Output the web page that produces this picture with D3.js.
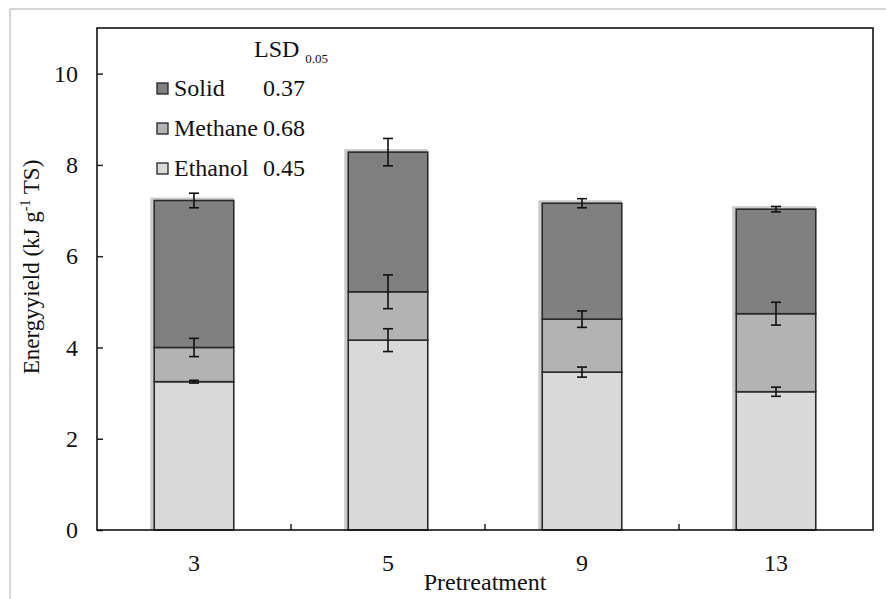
<!DOCTYPE html>
<meta charset="utf-8">
<style>
body { margin: 0; background: #fff; }
svg text { font-family: "Liberation Serif", Tinos, "Times New Roman", Times, serif; fill: #111; }
</style>
<svg width="886" height="599"></svg>
<script src="https://d3js.org/d3.v7.min.js"></script>
<script>

// data
var categories = ["3", "5", "9", "13"];
var ethanol = [3.25, 4.16, 3.46, 3.03];
var methane = [0.75, 1.06, 1.16, 1.71];
var solid = [3.22, 3.06, 2.54, 2.29];
var ethanolErr = [0.03, 0.25, 0.11, 0.10];
var methaneErr = [0.20, 0.37, 0.18, 0.25];
var solidErr = [0.16, 0.30, 0.10, 0.06];
var yTicks = [0, 2, 4, 6, 8, 10];
var seriesNames = ["Solid", "Methane", "Ethanol"];
var lsdValues = ["0.37", "0.68", "0.45"];

var colors = { Ethanol: "#d9d9d9", Methane: "#b3b3b3", Solid: "#808080" };

var svg = d3.select("svg");
var plotL = 97, plotR = 873, plotT = 28, plotB = 530;

var x = d3.scaleBand()
    .domain(categories)
    .range([plotL, plotR])
    .paddingInner(0.59)
    .paddingOuter(0.295);

var y = d3.scaleLinear()
    .domain([0, 11])
    .range([plotB, plotT]);

// faint page border
svg.append("line").attr("x1", 10).attr("x2", 886).attr("y1", 9).attr("y2", 9)
    .attr("stroke", "#d4d4d4").attr("stroke-width", 2);
svg.append("line").attr("x1", 10).attr("x2", 10).attr("y1", 9).attr("y2", 599)
    .attr("stroke", "#d4d4d4").attr("stroke-width", 2);

// stacked data
var rows = categories.map(function(c, i) {
  return { cat: c, Ethanol: ethanol[i], Methane: methane[i], Solid: solid[i] };
});
var stack = d3.stack().keys(["Ethanol", "Methane", "Solid"]);
var layers = stack(rows);
var errs = { Ethanol: ethanolErr, Methane: methaneErr, Solid: solidErr };

var g = svg.append("g");

// soft shadow behind each stack
var totals = layers[layers.length - 1];
g.selectAll("rect.shadow")
  .data(totals)
  .enter().append("rect")
    .attr("class", "shadow")
    .attr("x", function(d) { return x(d.data.cat) - 4; })
    .attr("y", function(d) { return y(d[1]) - 3; })
    .attr("width", x.bandwidth() + 4)
    .attr("height", function(d) { return y(0) - y(d[1]) + 3; })
    .attr("fill", "#a8a8a8")
    .attr("opacity", 0.6);

layers.forEach(function(layer) {
  g.selectAll("rect." + layer.key)
    .data(layer)
    .enter().append("rect")
      .attr("class", layer.key)
      .attr("x", function(d) { return x(d.data.cat); })
      .attr("y", function(d) { return y(d[1]); })
      .attr("width", x.bandwidth())
      .attr("height", function(d) { return y(d[0]) - y(d[1]); })
      .attr("fill", colors[layer.key])
      .attr("stroke", "#2a2a2a")
      .attr("stroke-width", 1.6);
});

// error bars
layers.forEach(function(layer) {
  var e = errs[layer.key];
  layer.forEach(function(d, i) {
    var cx = x(d.data.cat) + x.bandwidth() / 2;
    var y1 = y(d[1] + e[i]), y2 = y(d[1] - e[i]);
    var eb = g.append("g").attr("stroke", "#111").attr("stroke-width", 1.6);
    eb.append("line").attr("x1", cx).attr("x2", cx).attr("y1", y1).attr("y2", y2);
    eb.append("line").attr("x1", cx - 5).attr("x2", cx + 5).attr("y1", y1).attr("y2", y1);
    eb.append("line").attr("x1", cx - 5).attr("x2", cx + 5).attr("y1", y2).attr("y2", y2);
  });
});

// y axis
var yAxis = svg.append("g")
    .attr("transform", "translate(" + plotL + ",0)")
    .call(d3.axisLeft(y).tickValues(yTicks).tickSizeInner(-6).tickSizeOuter(0).tickPadding(19))
    .attr("font-family", null);
yAxis.select(".domain").remove();
yAxis.selectAll("line").attr("stroke", "#222").attr("stroke-width", 1.5);
yAxis.selectAll("text").attr("font-size", 24).attr("fill", "#111");

// x axis labels and separator ticks
svg.selectAll("text.xlab")
  .data(categories)
  .enter().append("text")
    .attr("class", "xlab")
    .attr("x", function(d) { return x(d) + x.bandwidth() / 2; })
    .attr("y", 571)
    .attr("text-anchor", "middle")
    .attr("font-size", 24)
    .text(function(d) { return d; });

var step = x.step();
categories.slice(0, -1).forEach(function(c) {
  var tx = x(c) + x.bandwidth() / 2 + step / 2;
  svg.append("line").attr("x1", tx).attr("x2", tx).attr("y1", plotB).attr("y2", plotB - 6)
    .attr("stroke", "#222").attr("stroke-width", 1.5);
});

// frame
svg.append("rect")
    .attr("x", plotL).attr("y", plotT)
    .attr("width", plotR - plotL).attr("height", plotB - plotT)
    .attr("fill", "none").attr("stroke", "#111").attr("stroke-width", 1.6);

// axis titles
svg.append("text")
    .attr("x", 485)
    .attr("y", 590)
    .attr("text-anchor", "middle")
    .attr("font-size", 24)
    .text("Pretreatment");

var yt = svg.append("text")
    .attr("transform", "translate(39,267) rotate(-90)")
    .attr("text-anchor", "middle")
    .attr("font-size", 23);
yt.append("tspan").text("Energyyield (kJ g");
yt.append("tspan").attr("font-size", 14).attr("dy", -9).text("-1");
yt.append("tspan").attr("dy", 9).text(" TS)");

// legend
var lsd = svg.append("text").attr("x", 254).attr("y", 57).attr("font-size", 24);
lsd.append("tspan").text("LSD");
lsd.append("tspan").attr("font-size", 13).attr("dx", 6).attr("dy", 6).text("0.05");

var legend = svg.selectAll("g.leg")
  .data(seriesNames)
  .enter().append("g")
    .attr("class", "leg")
    .attr("transform", function(d, i) { return "translate(157," + (88 + i * 40) + ")"; });

legend.append("rect")
    .attr("x", 0).attr("y", -5)
    .attr("width", 11).attr("height", 11)
    .attr("fill", function(d) { return colors[d]; })
    .attr("stroke", "#222").attr("stroke-width", 1.3);

legend.append("text")
    .attr("x", 17).attr("y", 8)
    .attr("font-size", 24)
    .text(function(d) { return d; });

legend.append("text")
    .attr("x", 106).attr("y", 8)
    .attr("font-size", 24)
    .text(function(d, i) { return lsdValues[i]; });

</script>
